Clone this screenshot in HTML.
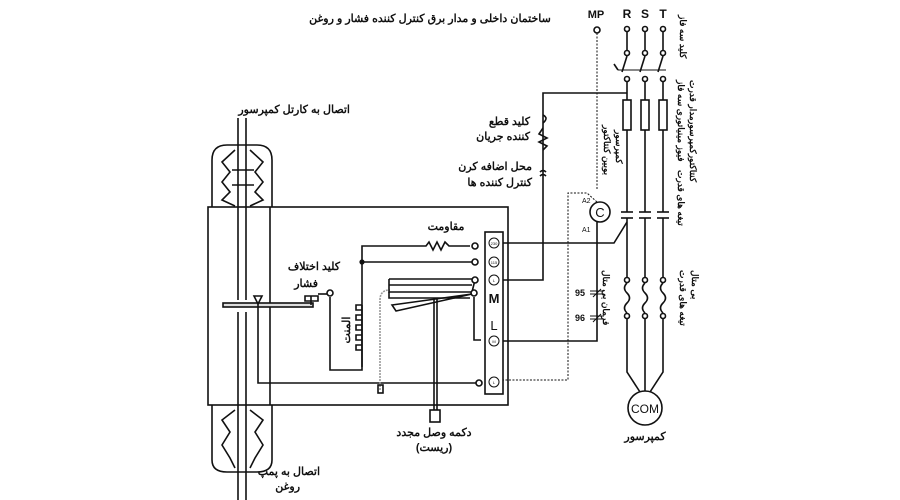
<!DOCTYPE html>
<html><head><meta charset="utf-8"><style>
html,body{margin:0;padding:0;background:#fff;}
svg{display:block}
text{font-family:"Liberation Sans","Noto Sans CJK SC",sans-serif;fill:#111}
.fa{font-weight:bold;font-size:11px}
</style></head><body>
<svg width="900" height="500" viewBox="0 0 900 500" stroke="#111" fill="none" stroke-width="1.6">
<text class="fa" x="430" y="22" text-anchor="middle" stroke="none" font-size="12">ساختمان داخلی و مدار برق کنترل کننده فشار و روغن</text>

<rect x="208" y="207" width="300" height="198"/>
<line x1="270" y1="207" x2="270" y2="405"/>
<path d="M212 207 V160 Q212 145 227 145 H257 Q272 145 272 160 V207"/>
<path d="M235 150 L222 162 L230 172 L222 182 L230 192 L222 200 L235 206 M250 150 L263 162 L255 172 L263 182 L255 192 L263 200 L250 206"/>
<line x1="232" y1="170" x2="254" y2="170"/><line x1="232" y1="185" x2="254" y2="185"/>
<path d="M212 405 V460 Q212 472 227 472 H257 Q272 472 272 460 V405"/>
<path d="M235 410 L222 420 L230 432 L222 445 L230 458 L235 468 M250 410 L263 420 L255 432 L263 445 L255 458 L250 468"/>
<line x1="238" y1="118" x2="238" y2="300"/><line x1="246" y1="118" x2="246" y2="300"/>
<line x1="238" y1="312" x2="238" y2="500"/><line x1="246" y1="312" x2="246" y2="500"/>
<text class="fa" x="350" y="113" text-anchor="end" stroke="none">اتصال به کارتل کمپرسور</text>
<text class="fa" x="320" y="475" text-anchor="end" stroke="none">اتصال به پمپ</text>
<text class="fa" x="300" y="490" text-anchor="end" stroke="none">روغن</text>
<rect x="223" y="303" width="90" height="4" fill="#ddd"/>
<path d="M311 305 V296 H318 M305 296 H318 V301 H305 Z"/>
<line x1="318" y1="294" x2="327" y2="294"/><circle cx="330" cy="293" r="3" fill="#fff"/>
<path d="M254 296 l4 8 l4 -8 Z"/>
<text class="fa" x="340" y="270" text-anchor="end" stroke="none">کلید اختلاف</text>
<text class="fa" x="318" y="287" text-anchor="end" stroke="none">فشار</text>
<path d="M258 304 V383 H476"/><circle cx="479" cy="383" r="3" fill="#fff"/>
<text class="fa" x="446" y="230" text-anchor="middle" stroke="none">مقاومت</text>
<path d="M362 367 V246 H426 l3 -4 l4 8 l4 -8 l4 8 l4 -8 l4 4 H470"/>
<circle cx="475" cy="246" r="3" fill="#fff"/>
<line x1="362" y1="262" x2="472" y2="262"/><circle cx="475" cy="262" r="3" fill="#fff"/>
<circle cx="362" cy="262" r="1.8" fill="#111"/>
<path d="M330 297 V370 H362 V305 M362 305 h-6 v5 h6 v5 h-6 v5 h6 v5 h-6 v5 h6 v5 h-6 v5 h6 v5 h-6 v5 h6"/>
<text class="fa" stroke="none" transform="translate(350,330) rotate(-90)" text-anchor="middle">المنت</text>
<path d="M380 390 V300 Q380 290 390 290" stroke="#999" stroke-dasharray="2 1"/><rect x="378" y="385" width="5" height="8"/>
<path d="M389 279 H472 M389 285 H472 M389 279 V292 H472 L475 280" /><circle cx="475" cy="280" r="3" fill="#fff"/>
<path d="M389 292 V298 H470"/><circle cx="474" cy="293" r="3" fill="#fff"/>
<path d="M392 305 L472 294 L396 311 Z"/>
<path d="M474 297 V340 H481"/>
<line x1="434" y1="299" x2="434" y2="410"/><line x1="437" y1="299" x2="437" y2="410"/>
<rect x="430" y="410" width="10" height="12"/>
<text class="fa" x="434" y="436" text-anchor="middle" stroke="none">دکمه وصل مجدد</text>
<text class="fa" x="434" y="451" text-anchor="middle" stroke="none">(ریست)</text>
<rect x="485" y="232" width="18" height="162"/>
<g stroke-width="1"><circle cx="494" cy="243" r="5"/><circle cx="494" cy="262" r="5"/><circle cx="494" cy="280" r="5"/><circle cx="494" cy="341" r="5"/><circle cx="494" cy="382" r="5"/></g>
<g stroke="none" font-size="4" text-anchor="middle"><text x="494" y="245">230</text><text x="494" y="264">115</text><text x="494" y="282">L</text><text x="494" y="343">M</text><text x="494" y="384">L</text></g>
<text x="494" y="303" text-anchor="middle" stroke="none" font-size="13" font-weight="bold">M</text>
<text x="494" y="330" text-anchor="middle" stroke="none" font-size="13">L</text>
<path d="M503 243 H614 L627 222"/>
<path d="M503 280 H543 V93 H627"/>
<path d="M543 115 q6 3 0 8 M543 128 l-4 6 l8 4 l-8 4 l8 4 l-4 4 M540 172 q3 -3 6 0 M540 176 q3 -3 6 0"/>
<text class="fa" x="530" y="125" text-anchor="end" stroke="none">کلید قطع</text>
<text class="fa" x="530" y="140" text-anchor="end" stroke="none">کننده جریان</text>
<text class="fa" x="532" y="170" text-anchor="end" stroke="none">محل اضافه کرن</text>
<text class="fa" x="532" y="186" text-anchor="end" stroke="none">کنترل کننده ها</text>
<path d="M503 341 H597 V222"/>
<path d="M590 291 h14 M590 294 h14 M593 297 l8 -8 M590 316 h14 M590 319 h14 M593 322 l8 -8" stroke-width="1"/>
<text x="585" y="296" text-anchor="end" stroke="none" font-size="9" font-weight="bold">95</text>
<text x="585" y="321" text-anchor="end" stroke="none" font-size="9" font-weight="bold">96</text>
<circle cx="600" cy="212" r="10"/><text x="600" y="217" text-anchor="middle" stroke="none" font-size="13">C</text>
<text x="582" y="203" stroke="none" font-size="7">A2</text><text x="582" y="232" stroke="none" font-size="7">A1</text>
<path d="M597 202 L587 193 H568 V380 H503" stroke-dasharray="2 1.5" stroke-width="1"/>
<path d="M597 33 V190" stroke-dasharray="2 1.5" stroke-width="1"/>
<circle cx="597" cy="30" r="3"/>
<text x="596" y="18" text-anchor="middle" stroke="none" font-size="11" font-weight="bold">MP</text>
<g>
<text x="627" y="18" text-anchor="middle" stroke="none" font-size="12" font-weight="bold">R</text>
<text x="645" y="18" text-anchor="middle" stroke="none" font-size="12" font-weight="bold">S</text>
<text x="663" y="18" text-anchor="middle" stroke="none" font-size="12" font-weight="bold">T</text>
</g>
<g id="ph">
<circle cx="627" cy="29" r="2.5"/><line x1="627" y1="32" x2="627" y2="50"/><circle cx="627" cy="53" r="2.5"/>
<line x1="627" y1="56" x2="622" y2="72"/><circle cx="627" cy="79" r="2.5"/>
<line x1="627" y1="82" x2="627" y2="100"/><rect x="623" y="100" width="8" height="30"/>
<line x1="627" y1="130" x2="627" y2="212"/><line x1="621" y1="212" x2="633" y2="212"/><line x1="621" y1="218" x2="633" y2="218"/>
<line x1="627" y1="218" x2="627" y2="277"/><circle cx="627" cy="280" r="2.5"/>
<path d="M627 283 q-5 5 0 10 q5 5 0 10 q-5 5 0 10"/><circle cx="627" cy="316" r="2.5"/>
</g>
<use href="#ph" x="18"/><use href="#ph" x="36"/>
<line x1="618" y1="70" x2="666" y2="70" stroke-width="1"/><path d="M618 70 l-4 -6"/>
<path d="M627 319 V372 L640 392 M645 319 V391 M663 319 V372 L650 392"/>
<circle cx="645" cy="408" r="17"/>
<text x="645" y="413" text-anchor="middle" stroke="none" font-size="12">COM</text>
<text class="fa" x="645" y="440" text-anchor="middle" stroke="none">کمپرسور</text>
<g stroke="none" font-size="9" font-weight="bold">
<text transform="translate(680,15) rotate(90)">کلید سه فاز</text>
<text transform="translate(678,80) rotate(90)">فیوز مینیاتوری سه فاز</text>
<text transform="translate(690,80) rotate(90)">مدار قدرت</text>
<text transform="translate(690,120) rotate(90)">کنتاکتورکمپرسور</text>
<text transform="translate(678,170) rotate(90)">تیغه های قدرت</text>
<text transform="translate(680,270) rotate(90)">تیغه های قدرت</text>
<text transform="translate(692,270) rotate(90)">بی متال</text>
<text transform="translate(604,125) rotate(90)">بوبین کنتاکتور</text>
<text transform="translate(616,130) rotate(90)">کمپرسور</text>
<text transform="translate(603,270) rotate(90)">فرمان بی متال</text>
</g>
</svg>
</body></html>
